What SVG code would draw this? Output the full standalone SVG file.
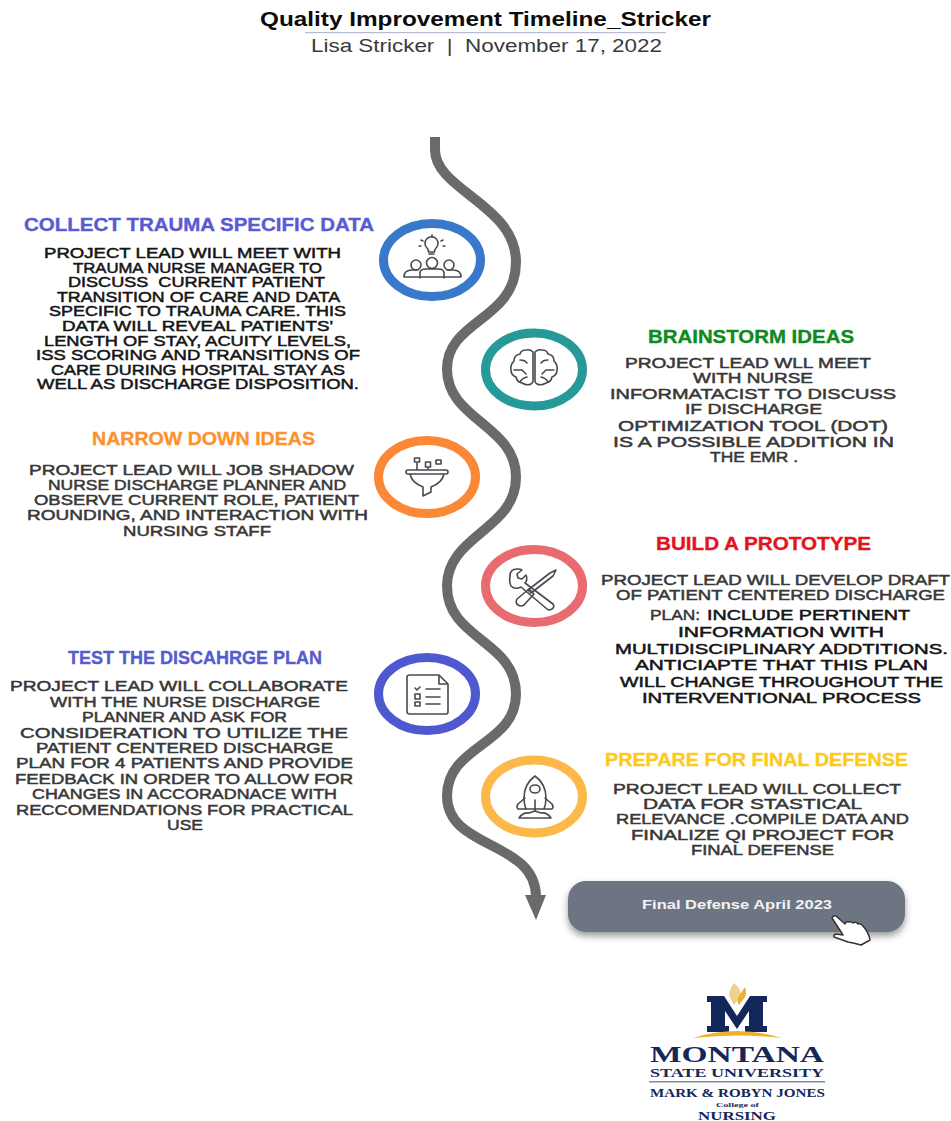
<svg xmlns="http://www.w3.org/2000/svg" width="951" height="1121" viewBox="0 0 951 1121">
<style>
text{font-family:"Liberation Sans",Arial,sans-serif}
.h{font-size:19px;font-weight:700;stroke-width:.35px}
.b{font-size:14.8px;font-weight:400;stroke-width:.5px}
.k{fill:#151515;stroke:#151515}
.g{fill:#383838;stroke:#383838}
.ring{fill:#fff;stroke-width:9}
.ic{fill:none;stroke:#454a50;stroke-width:1.6;stroke-linecap:round;stroke-linejoin:round}
.serif{font-family:"Liberation Serif","Times New Roman",serif;font-weight:700;fill:#14275a}
</style>
<defs>
<filter id="sh" x="-10%" y="-30%" width="120%" height="170%"><feDropShadow dx="0" dy="4" stdDeviation="3.5" flood-color="#000" flood-opacity=".4"/></filter>
</defs>
<rect width="951" height="1121" fill="#fff"/>
<g id="header">
<text x="260" y="26" textLength="451" lengthAdjust="spacingAndGlyphs" font-size="20" font-weight="700" fill="#0c0c0c">Quality Improvement Timeline_Stricker</text>
<rect x="305" y="32" width="361" height="1.2" fill="#b3bcd2"/>
<text x="311" y="52" textLength="351" lengthAdjust="spacingAndGlyphs" font-size="18.5" fill="#3a3a3a" xml:space="preserve">Lisa Stricker  |  November 17, 2022</text>
</g>
<g id="connectors">
<path d="M435 137V150C435 190 516 205 516 262C516 320 447 320 447 369C447 420 516 425 516 477C516 530 447 535 447 586C447 640 516 640 516 694C516 745 447 745 447 796C447 850 536 840 536 897" fill="none" stroke="#6a6a6a" stroke-width="10"/>
<polygon points="525,895 546,895 536,920" fill="#6a6a6a"/>
</g>
<g id="node-collect">
<ellipse class="ring" cx="432" cy="260" rx="48.5" ry="36.5" stroke="#3a78cb"/>
<g class="ic"><path d="M427 248a6.5 6.500 0 1 1 9 0q-1.500 1.500-1.500 4h-6q0-2.500-1.500-4zM429 254h5"/><path d="M432 235v2M421 240l2 1M443 240l-2 1M419 246h2M443 246h2"/><circle cx="416" cy="265" r="5"/><circle cx="432" cy="263" r="5.500"/><circle cx="449" cy="265" r="5"/><path d="M404 277q0-7 8-7h6M461 277q0-7-8-7h-6M404 277h57M420 278v-5q0-4 6-4h12q6 0 6 4v5"/></g>
<text class="h" x="24" y="231" textLength="350" lengthAdjust="spacingAndGlyphs" fill="#5a5bd3" stroke="#5a5bd3">COLLECT TRAUMA SPECIFIC DATA</text>
<g class="b k">
<text x="44" y="257.500" textLength="297" lengthAdjust="spacingAndGlyphs">PROJECT LEAD WILL MEET WITH</text>
<text x="73" y="272.500" textLength="249" lengthAdjust="spacingAndGlyphs">TRAUMA NURSE MANAGER TO</text>
<text x="68" y="286.500" textLength="257" lengthAdjust="spacingAndGlyphs" xml:space="preserve">DISCUSS  CURRENT PATIENT</text>
<text x="57" y="301.500" textLength="283" lengthAdjust="spacingAndGlyphs">TRANSITION OF CARE AND DATA</text>
<text x="49" y="315.500" textLength="297" lengthAdjust="spacingAndGlyphs">SPECIFIC TO TRAUMA CARE. THIS</text>
<text x="62" y="330.500" textLength="271" lengthAdjust="spacingAndGlyphs">DATA WILL REVEAL PATIENTS'</text>
<text x="44" y="345.500" textLength="307" lengthAdjust="spacingAndGlyphs">LENGTH OF STAY, ACUITY LEVELS,</text>
<text x="36" y="359.500" textLength="324" lengthAdjust="spacingAndGlyphs">ISS SCORING AND TRANSITIONS OF</text>
<text x="51" y="374.500" textLength="294" lengthAdjust="spacingAndGlyphs">CARE DURING HOSPITAL STAY AS</text>
<text x="37" y="388.500" textLength="322" lengthAdjust="spacingAndGlyphs">WELL AS DISCHARGE DISPOSITION.</text>
</g>
</g>
<g id="node-brainstorm">
<ellipse class="ring" cx="534" cy="369.500" rx="48.500" ry="36.500" stroke="#259a99"/>
<g class="ic"><path d="M533 352q-3-3-7-2-5 0-6 4-6 1-6 7-4 4-3 9 0 5 5 7 1 5 6 6 5 3 9 1 2-1 2-3zM535 352q3-3 7-2 5 0 6 4 6 1 6 7 4 4 3 9 0 5-5 7-1 5-6 6-5 3-9 1-2-1-2-3z"/><path d="M520 360q5 0 7 3M514 370h8l4 4M520 382q2-4 7-5M548 360q-5 0-7 3M554 370h-8l-4 4M548 382q-2-4-7-5"/></g>
<text class="h" x="648" y="343" textLength="206" lengthAdjust="spacingAndGlyphs" fill="#0f8a22" stroke="#0f8a22">BRAINSTORM IDEAS</text>
<g class="b g">
<text x="625" y="367.500" textLength="246" lengthAdjust="spacingAndGlyphs">PROJECT LEAD WLL MEET</text>
<text x="693" y="382.500" textLength="120" lengthAdjust="spacingAndGlyphs">WITH NURSE</text>
<text x="610" y="398.500" textLength="286" lengthAdjust="spacingAndGlyphs">INFORMATACIST TO DISCUSS</text>
<text x="685" y="413.500" textLength="137" lengthAdjust="spacingAndGlyphs">IF DISCHARGE</text>
<text x="618" y="430.500" textLength="270" lengthAdjust="spacingAndGlyphs">OPTIMIZATION TOOL (DOT)</text>
<text x="613" y="446.500" textLength="281" lengthAdjust="spacingAndGlyphs">IS A POSSIBLE ADDITION IN</text>
<text x="710" y="461.500" textLength="88" lengthAdjust="spacingAndGlyphs">THE EMR .</text>
</g>
</g>
<g id="node-narrow">
<ellipse class="ring" cx="427" cy="477" rx="48.500" ry="36.500" stroke="#fb8836"/>
<g class="ic"><rect x="414.500" y="458" width="5" height="4"/><rect x="425.500" y="462" width="5" height="5"/><rect x="436" y="460" width="5" height="4"/><path d="M417 463v6M428 468v2M406 472q0-2 2-2h38q2 0 2 2t-2 2h-38q-2 0-2-2zM410 474q2 9 13 13v9l8-4v-5q11-4 13-13"/></g>
<text class="h" x="92" y="445" textLength="223" lengthAdjust="spacingAndGlyphs" fill="#fb922f" stroke="#fb922f">NARROW DOWN IDEAS</text>
<g class="b g">
<text x="29" y="474.500" textLength="325" lengthAdjust="spacingAndGlyphs">PROJECT LEAD WILL JOB SHADOW</text>
<text x="48" y="489.500" textLength="298" lengthAdjust="spacingAndGlyphs">NURSE DISCHARGE PLANNER AND</text>
<text x="34" y="505" textLength="325" lengthAdjust="spacingAndGlyphs">OBSERVE CURRENT ROLE, PATIENT</text>
<text x="27" y="519.500" textLength="341" lengthAdjust="spacingAndGlyphs">ROUNDING, AND INTERACTION WITH</text>
<text x="123" y="535.500" textLength="148" lengthAdjust="spacingAndGlyphs">NURSING STAFF</text>
</g>
</g>
<g id="node-prototype">
<ellipse class="ring" cx="534" cy="586" rx="48.500" ry="36.500" stroke="#e86c6f"/>
<g class="ic"><path d="M510 576q0-7 7-7 4 0 5 1l-5 4 1 4 4 1 4-4q2 5-1 8l28 21q2 3-1 5-3 2-5 0l-26-22q-6 3-10-1-2-4-1-10z"/><path d="M556 570l-3 6-22 17-3-3 22-17z"/><path d="M529 589l5 5-10 11q-3 2-6 0t-1-6z"/></g>
<text class="h" x="656" y="550" textLength="215" lengthAdjust="spacingAndGlyphs" fill="#e4141d" stroke="#e4141d">BUILD A PROTOTYPE</text>
<g class="b g">
<text x="601" y="584.500" textLength="349" lengthAdjust="spacingAndGlyphs">PROJECT LEAD WILL DEVELOP DRAFT</text>
<text x="616" y="599.500" textLength="329" lengthAdjust="spacingAndGlyphs">OF PATIENT CENTERED DISCHARGE</text>
<text x="650" y="619.500" textLength="50" lengthAdjust="spacingAndGlyphs">PLAN:</text>
</g>
<g class="b k">
<text x="707" y="619.500" textLength="203" lengthAdjust="spacingAndGlyphs">INCLUDE PERTINENT</text>
<text x="678" y="637" textLength="206" lengthAdjust="spacingAndGlyphs">INFORMATION WITH</text>
<text x="615" y="653.500" textLength="333" lengthAdjust="spacingAndGlyphs">MULTIDISCIPLINARY ADDTITIONS.</text>
<text x="635" y="670" textLength="293" lengthAdjust="spacingAndGlyphs">ANTICIAPTE THAT THIS PLAN</text>
<text x="620" y="686.500" textLength="323" lengthAdjust="spacingAndGlyphs">WILL CHANGE THROUGHOUT THE</text>
<text x="642" y="702.500" textLength="279" lengthAdjust="spacingAndGlyphs">INTERVENTIONAL PROCESS</text>
</g>
</g>
<g id="node-test">
<ellipse class="ring" cx="427" cy="694" rx="48.500" ry="36.500" stroke="#5058d0"/>
<g class="ic"><path d="M410 675h29l9 9v28q0 2-2 2h-36q-3 0-3-2v-35q0-2 3-2zM439 675v9h9"/><path d="M415 688l2 2 3-3M426 689h14M426 697h14M426 704h14"/><rect x="415" y="694" width="5" height="5"/><rect x="415" y="702" width="5" height="4"/></g>
<text class="h" x="68" y="664" textLength="254" lengthAdjust="spacingAndGlyphs" fill="#565bd0" stroke="#565bd0">TEST THE DISCAHRGE PLAN</text>
<g class="b g">
<text x="10" y="690.500" textLength="338" lengthAdjust="spacingAndGlyphs">PROJECT LEAD WILL COLLABORATE</text>
<text x="50" y="706.500" textLength="270" lengthAdjust="spacingAndGlyphs">WITH THE NURSE DISCHARGE</text>
<text x="82" y="721.500" textLength="205" lengthAdjust="spacingAndGlyphs">PLANNER AND ASK FOR</text>
<text x="20" y="737.500" textLength="328" lengthAdjust="spacingAndGlyphs">CONSIDERATION TO UTILIZE THE</text>
<text x="36" y="752.500" textLength="297" lengthAdjust="spacingAndGlyphs">PATIENT CENTERED DISCHARGE</text>
<text x="16" y="767.500" textLength="337" lengthAdjust="spacingAndGlyphs">PLAN FOR 4 PATIENTS AND PROVIDE</text>
<text x="15" y="783.500" textLength="338" lengthAdjust="spacingAndGlyphs">FEEDBACK IN ORDER TO ALLOW FOR</text>
<text x="32" y="798.500" textLength="305" lengthAdjust="spacingAndGlyphs">CHANGES IN ACCORADNACE WITH</text>
<text x="16" y="814.500" textLength="337" lengthAdjust="spacingAndGlyphs">RECCOMENDATIONS FOR PRACTICAL</text>
<text x="167" y="829.500" textLength="36" lengthAdjust="spacingAndGlyphs">USE</text>
</g>
</g>
<g id="node-prepare">
<ellipse class="ring" cx="534" cy="796.500" rx="48.500" ry="36.500" stroke="#fdb84a"/>
<g class="ic"><path d="M535 776q-11 8-11 22 0 6 2 11h18q2-5 2-11 0-14-11-22z"/><ellipse cx="535" cy="789" rx="5" ry="4"/><path d="M525 798l-7 6q-2 3 0 5h8M545 798l7 6q2 3 0 5h-8M535 800v11M519 818q4-6 10-5l6-2 6 2q6-1 10 5z"/></g>
<text class="h" x="605" y="766" textLength="303" lengthAdjust="spacingAndGlyphs" fill="#fdc91c" stroke="#fdc91c">PREPARE FOR FINAL DEFENSE</text>
<g class="b g">
<text x="613" y="793.500" textLength="288" lengthAdjust="spacingAndGlyphs">PROJECT LEAD WILL COLLECT</text>
<text x="643" y="808.500" textLength="219" lengthAdjust="spacingAndGlyphs">DATA FOR STASTICAL</text>
<text x="616" y="823.500" textLength="293" lengthAdjust="spacingAndGlyphs">RELEVANCE .COMPILE DATA AND</text>
<text x="631" y="839.500" textLength="263" lengthAdjust="spacingAndGlyphs">FINALIZE QI PROJECT FOR</text>
<text x="691" y="854.500" textLength="143" lengthAdjust="spacingAndGlyphs">FINAL DEFENSE</text>
</g>
</g>
<g id="node-final">
<rect x="568" y="881" width="337" height="51" rx="18" fill="#6d7483" filter="url(#sh)"/>
<text x="642" y="909" textLength="190" lengthAdjust="spacingAndGlyphs" font-size="13.500" font-weight="700" fill="#f2f3f5">Final Defense April 2023</text>
<path d="M832 918q1-3 4-2l9 8q1-3 4-2 2-1 4 1 3-2 5 1 3-1 5 2 6 7 7 14l-9 5q-7-2-13-3l-14-5q-1-2 2-3l7 1z" fill="#fff" stroke="#333" stroke-width="1.500" stroke-linejoin="round"/>
</g>
<g id="logo">
<path d="M734 983q6 5 7 11-2 6-7 11-4-6-5-11 1-6 5-11z" fill="#f0d08c"/>
<path d="M739 1005q-3-5 0-9l6-9q2 6 0 10z" fill="#eeae2e"/>
<path d="M707 996h17l13 20 13-20h17v6h-4v24h4v6h-22v-6h4v-15l-12 18-12-18v15h4v6h-22v-6h4v-24h-4z" fill="#14275a"/>
<path d="M693 1038q44-14 89 0q-44-5-89 0z" fill="#eeb22a"/>
<text class="serif" x="650" y="1062" textLength="174" lengthAdjust="spacingAndGlyphs" font-size="24">MONTANA</text>
<text class="serif" x="650" y="1077" textLength="174" lengthAdjust="spacingAndGlyphs" font-size="13">STATE UNIVERSITY</text>
<rect x="649" y="1081" width="176" height="1.500" fill="#7d8ba0"/>
<text class="serif" x="650" y="1097" textLength="175" lengthAdjust="spacingAndGlyphs" font-size="13">MARK &amp; ROBYN JONES</text>
<text class="serif" x="716" y="1107" textLength="43" lengthAdjust="spacingAndGlyphs" font-size="7">College of</text>
<text class="serif" x="698" y="1120" textLength="78" lengthAdjust="spacingAndGlyphs" font-size="12.500">NURSING</text>
</g>
</svg>
